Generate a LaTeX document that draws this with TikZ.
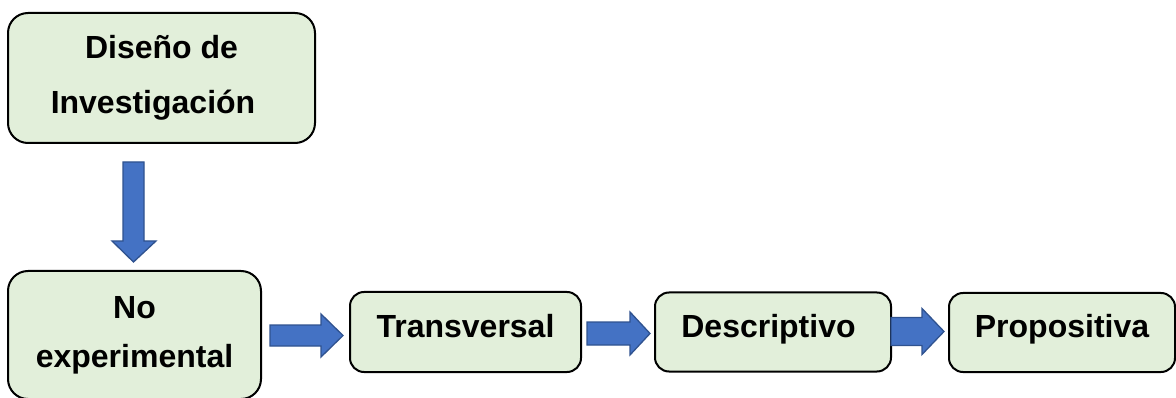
\documentclass[tikz,border=0pt]{standalone}
\usepackage{fontspec}
\setmainfont{Liberation Sans}
\definecolor{boxfill}{HTML}{E2EFDA}
\definecolor{arrowfill}{HTML}{4472C4}
\definecolor{arrowline}{HTML}{2F528F}
\tikzset{
  stage/.style={draw=black, line width=2pt, fill=boxfill, rounded corners=14pt,
    align=center, inner sep=0pt, font=\bfseries\fontsize{32}{38}\selectfont},
  oneline/.style={stage, text height=25pt, text depth=15pt},
  bigstage/.style={stage, rounded corners=20pt},
  blockarrow/.style={draw=arrowline, line width=1.3pt, fill=arrowfill, line join=miter}
}
% horizontal block arrow: start x, head start x, tip x, centre y, shaft half-height, head half-height
\newcommand\harrow[6]{%
  \draw[blockarrow] (#1,#4-#5) -- (#2,#4-#5) -- (#2,#4-#6) -- (#3,#4) -- (#2,#4+#6)
    -- (#2,#4+#5) -- (#1,#4+#5) -- cycle;}
\begin{document}
\begin{tikzpicture}[x=1pt,y=-1pt]
  \useasboundingbox (0,0) rectangle (1176,398);

  \node[bigstage, minimum width=307pt, minimum height=130pt,
        font=\bfseries\fontsize{32}{55}\selectfont] (diseno) at (161.5,78)
        {Diseño de\\Investigación\hspace*{17pt}};
  \node[bigstage, minimum width=253pt, minimum height=128pt,
        font=\bfseries\fontsize{32}{49}\selectfont] (noexp) at (134.5,335)
        {No\\experimental};
  \node[oneline, minimum width=231pt, minimum height=80pt] (trans) at (465.5,332) {Transversal};
  \node[oneline, minimum width=236pt, minimum height=79pt] (desc) at (773,332) {Descriptivo\hspace*{9pt}};
  \node[oneline, minimum width=226pt, minimum height=79pt] (prop) at (1062,332.5) {Propositiva};

  % downward block arrow from the design box to the non-experimental box
  \draw[blockarrow] (123,162) -- (144,162) -- (144,241) -- (156,241) -- (133.5,262)
    -- (112,241) -- (123,241) -- cycle;

  % block arrows along the bottom row
  \harrow{270}{321}{343}{335.5}{10.5}{21.5}
  \harrow{587}{630}{650}{333.5}{11.5}{21.5}
  \harrow{891}{922}{944}{331.5}{14}{23}
\end{tikzpicture}
\end{document}
